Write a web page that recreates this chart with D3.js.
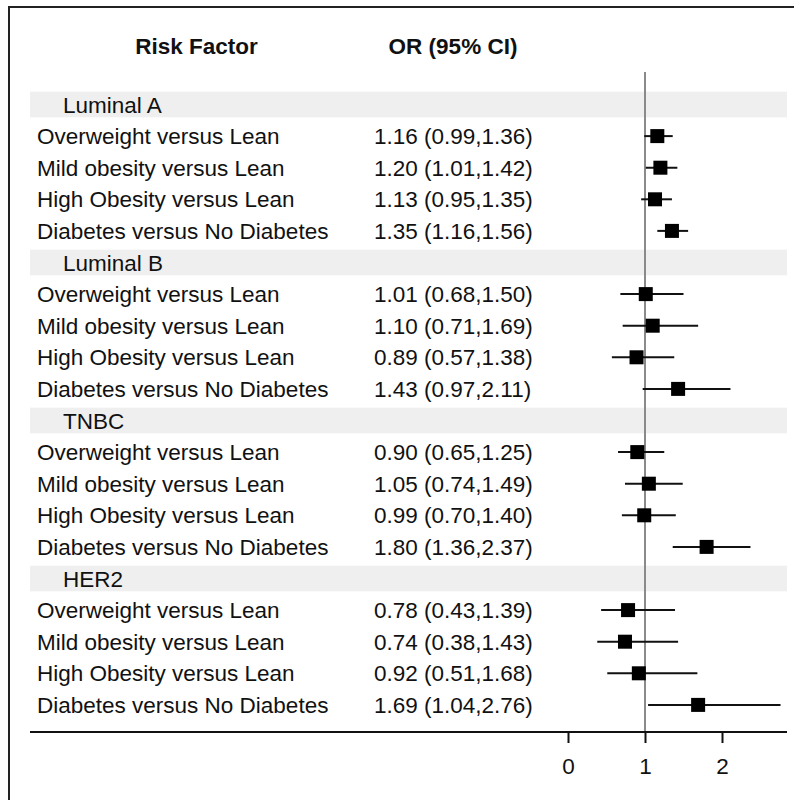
<!DOCTYPE html>
<html>
<head>
<meta charset="utf-8">
<script src="https://cdn.jsdelivr.net/npm/d3@7"></script>
<style>
  html, body { margin: 0; padding: 0; background: #fff; }
  svg { display: block; }
  text { font-family: "Liberation Sans", Arial, sans-serif; fill: #111; }
</style>
</head>
<body>
<svg id="chart" width="794" height="800"></svg>
<script>
// ---- Data ----
const subtypes = ["Luminal A", "Luminal B", "TNBC", "HER2"];
const comparisons = [
  "Overweight versus Lean",
  "Mild obesity versus Lean",
  "High Obesity versus Lean",
  "Diabetes versus No Diabetes"
];
const orValues = [
  [1.16, 1.20, 1.13, 1.35],
  [1.01, 1.10, 0.89, 1.43],
  [0.90, 1.05, 0.99, 1.80],
  [0.78, 0.74, 0.92, 1.69]
];
const ciLower = [
  [0.99, 1.01, 0.95, 1.16],
  [0.68, 0.71, 0.57, 0.97],
  [0.65, 0.74, 0.70, 1.36],
  [0.43, 0.38, 0.51, 1.04]
];
const ciUpper = [
  [1.36, 1.42, 1.35, 1.56],
  [1.50, 1.69, 1.38, 2.11],
  [1.25, 1.49, 1.40, 2.37],
  [1.39, 1.43, 1.68, 2.76]
];
const tickValues = [0, 1, 2];
const headers = ["Risk Factor", "OR (95% CI)"];

// ---- Build rows ----
const rows = [];
subtypes.forEach((s, gi) => {
  rows.push({ type: "group", label: s });
  comparisons.forEach((c, ci) => {
    rows.push({
      type: "item", label: c,
      or: orValues[gi][ci], lo: ciLower[gi][ci], hi: ciUpper[gi][ci]
    });
  });
});

const svg = d3.select("#chart");
const fs = 22.5;
const f2 = d3.format(".2f");

const x = d3.scaleLinear().domain([0, 2]).range([568, 722]);
const y = d3.scaleLinear().domain([0, rows.length - 1]).range([104.5, 704.9]);
const bandH = 25.6;
const left = 30, right = 787, axisY = 732;

// Outer frame (top + left)
svg.append("path")
  .attr("d", "M9,800 L9,7 L794,7")
  .attr("fill", "none").attr("stroke", "#222").attr("stroke-width", 2);

// Headers
svg.append("text").attr("x", 196.5).attr("y", 54)
  .attr("text-anchor", "middle").attr("font-weight", "bold")
  .attr("font-size", fs).text(headers[0]);
svg.append("text").attr("x", 453).attr("y", 54)
  .attr("text-anchor", "middle").attr("font-weight", "bold")
  .attr("font-size", fs).text(headers[1]);

// Group bands
svg.selectAll("rect.band")
  .data(rows.map((r, i) => ({ ...r, i })).filter(r => r.type === "group"))
  .join("rect").attr("class", "band")
  .attr("x", left).attr("width", right - left)
  .attr("y", d => y(d.i) - bandH / 2).attr("height", bandH)
  .attr("fill", "#efefef");

// Reference line at 1
svg.append("line")
  .attr("x1", x(1)).attr("x2", x(1))
  .attr("y1", 72).attr("y2", axisY)
  .attr("stroke", "#8a8a8a").attr("stroke-width", 2);

const rowG = svg.selectAll("g.row")
  .data(rows.map((r, i) => ({ ...r, i })))
  .join("g").attr("class", "row")
  .attr("transform", d => `translate(0,${y(d.i)})`);

// Labels
rowG.append("text")
  .attr("x", d => d.type === "group" ? 63 : 37)
  .attr("y", 8)
  .attr("font-size", fs)
  .text(d => d.label);

// OR text
rowG.filter(d => d.type === "item").append("text")
  .attr("x", 374).attr("y", 8)
  .attr("font-size", fs)
  .text(d => `${f2(d.or)} (${f2(d.lo)},${f2(d.hi)})`);

// CI lines
rowG.filter(d => d.type === "item").append("line")
  .attr("x1", d => x(d.lo)).attr("x2", d => x(d.hi))
  .attr("y1", 0).attr("y2", 0)
  .attr("stroke", "#111").attr("stroke-width", 2);

// Squares
const sq = 14;
rowG.filter(d => d.type === "item").append("rect")
  .attr("x", d => x(d.or) - sq / 2).attr("y", -sq / 2)
  .attr("width", sq).attr("height", sq)
  .attr("fill", "#000");

// Axis
svg.append("line")
  .attr("x1", left).attr("x2", right)
  .attr("y1", axisY).attr("y2", axisY)
  .attr("stroke", "#111").attr("stroke-width", 2);

const axis = d3.axisBottom(x).tickValues(tickValues)
  .tickFormat(d3.format("d")).tickSize(11).tickPadding(15);
const ag = svg.append("g").attr("transform", `translate(0,${axisY})`).call(axis);
ag.select(".domain").remove();
ag.selectAll(".tick line").attr("stroke", "#111").attr("stroke-width", 2);
ag.selectAll(".tick text")
  .attr("font-size", fs).attr("font-family", "Liberation Sans, Arial, sans-serif")
  .attr("fill", "#111");
</script>
</body>
</html>
